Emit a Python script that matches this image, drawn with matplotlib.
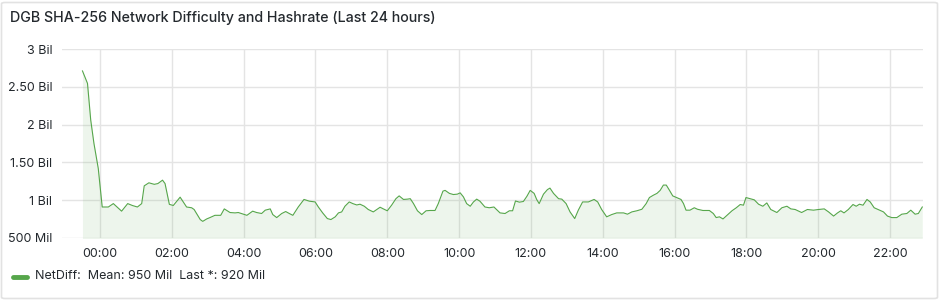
import numpy as np
import matplotlib
matplotlib.use('Agg')
import matplotlib.pyplot as plt
from matplotlib.patches import FancyBboxPatch

plt.rcParams['font.family'] = ['Inter', 'DejaVu Sans']

# Hours relative to midnight (negative = previous evening)
hours = [
    -0.49, -0.35, -0.26, -0.17, -0.05, 0.06, 0.23, 0.37, 0.60, 0.77,
    0.90, 1.04, 1.16, 1.23, 1.36, 1.51, 1.61, 1.74, 1.81, 1.93,
    2.04, 2.23, 2.41, 2.55, 2.62, 2.79, 2.86, 2.97, 3.06, 3.20,
    3.36, 3.46, 3.62, 3.76, 3.85, 3.99, 4.09, 4.25, 4.36, 4.50,
    4.60, 4.74, 4.81, 4.92, 5.06, 5.17, 5.27, 5.37, 5.52, 5.68,
    5.83, 5.99, 6.08, 6.20, 6.33, 6.43, 6.55, 6.64, 6.73, 6.82,
    6.94, 7.04, 7.15, 7.24, 7.36, 7.47, 7.61, 7.71, 7.80, 7.89,
    8.00, 8.12, 8.24, 8.33, 8.45, 8.56, 8.64, 8.73, 8.84, 8.96,
    9.08, 9.19, 9.33, 9.42, 9.55, 9.61, 9.73, 9.84, 9.95, 10.03,
    10.12, 10.21, 10.31, 10.40, 10.49, 10.58, 10.72, 10.84, 10.97, 11.14,
    11.28, 11.40, 11.49, 11.57, 11.68, 11.79, 11.89, 11.98, 12.09, 12.16,
    12.23, 12.35, 12.46, 12.53, 12.63, 12.77, 12.86, 12.98, 13.09, 13.22,
    13.32, 13.44, 13.60, 13.76, 13.86, 13.97, 14.11, 14.25, 14.39, 14.58,
    14.69, 14.81, 14.95, 15.09, 15.21, 15.30, 15.41, 15.51, 15.60, 15.69,
    15.77, 15.86, 15.95, 16.06, 16.18, 16.25, 16.32, 16.43, 16.55, 16.64,
    16.79, 16.97, 17.08, 17.16, 17.25, 17.35, 17.46, 17.60, 17.72, 17.83,
    17.92, 17.99, 18.11, 18.22, 18.34, 18.46, 18.57, 18.68, 18.85, 18.99,
    19.13, 19.24, 19.36, 19.54, 19.70, 19.87, 20.01, 20.17, 20.29, 20.43,
    20.54, 20.63, 20.72, 20.84, 20.97, 21.06, 21.15, 21.25, 21.36, 21.45,
    21.56, 21.71, 21.82, 21.93, 22.05, 22.19, 22.33, 22.47, 22.58, 22.70,
    22.79, 22.90,
]

# Network difficulty, in millions
net_diff_mil = [
    2710, 2545, 2060, 1750, 1420, 910, 910, 955, 855, 955,
    930, 910, 955, 1190, 1230, 1210, 1220, 1265, 1220, 945,
    930, 1040, 910, 900, 877, 744, 720, 752, 770, 800,
    800, 885, 837, 832, 837, 815, 800, 855, 837, 824,
    868, 885, 810, 770, 824, 850, 824, 800, 910, 1010,
    987, 977, 910, 832, 757, 744, 780, 832, 845, 920,
    977, 955, 937, 947, 920, 877, 845, 877, 907, 885,
    860, 934, 1020, 1057, 1010, 1014, 1020, 955, 860, 810,
    860, 864, 864, 955, 1120, 1130, 1090, 1075, 1080, 1097,
    1044, 955, 920, 977, 1014, 987, 910, 900, 910, 832,
    824, 860, 860, 990, 974, 983, 1053, 1130, 1090, 1010,
    955, 1080, 1140, 1160, 1090, 1020, 1014, 955, 845, 757,
    868, 977, 977, 1010, 977, 877, 780, 810, 832, 832,
    815, 845, 860, 880, 955, 1035, 1066, 1090, 1130, 1200,
    1200, 1130, 1057, 1035, 1010, 955, 868, 868, 900, 880,
    864, 864, 824, 770, 780, 752, 800, 860, 900, 943,
    934, 1035, 1020, 1005, 947, 920, 964, 877, 837, 900,
    920, 885, 877, 837, 877, 868, 877, 885, 845, 790,
    832, 860, 832, 877, 943, 920, 947, 934, 1010, 977,
    900, 868, 845, 790, 770, 770, 815, 824, 868, 815,
    824, 910,
]

x_ticks = [0, 2, 4, 6, 8, 10, 12, 14, 16, 18, 20, 22]
x_labels = ['00:00', '02:00', '04:00', '06:00', '08:00', '10:00',
            '12:00', '14:00', '16:00', '18:00', '20:00', '22:00']
y_ticks = [500, 1000, 1500, 2000, 2500, 3000]
y_labels = ['500 Mil', '1 Bil', '1.50 Bil', '2 Bil', '2.50 Bil', '3 Bil']

title = 'DGB SHA-256 Network Difficulty and Hashrate (Last 24 hours)'
legend_text = 'NetDiff:  Mean: 950 Mil  Last *: 920 Mil'

GREEN = '#56a64b'
TEXT = '#24292e'
GRID = '#e4e4e4'

fig = plt.figure(figsize=(9.4, 3.0), dpi=100)
fig.patch.set_facecolor('white')

# panel frame
frame = FancyBboxPatch((1.5 / 940, 1.5 / 300), 936 / 940, 296 / 300,
                       boxstyle='round,pad=0,rounding_size=0.004',
                       transform=fig.transFigure, facecolor='none',
                       edgecolor='#e2e2e2', linewidth=1.2)
fig.patches.append(frame)

ax = fig.add_axes([62 / 940, 1 - 238 / 300, (923 - 62) / 940, (238 - 49) / 300])
t = np.array(hours)
v = np.array(net_diff_mil)
ax.plot(t, v, color=GREEN, linewidth=0.8)
ax.fill_between(t, v, 0, color=GREEN, alpha=0.1, linewidth=0)

ax.set_xlim(-1.06, 22.92)
ax.set_ylim(500, 3000)
ax.set_xticks(x_ticks)
ax.set_xticklabels(x_labels)
ax.set_yticks(y_ticks)
ax.set_yticklabels(y_labels)
ax.tick_params(length=0, labelsize=9, labelcolor=TEXT)
ax.tick_params(axis='x', pad=7)
ax.tick_params(axis='y', pad=7)
ax.grid(True, color=GRID, linewidth=1)
ax.set_axisbelow(True)
for s in ax.spines.values():
    s.set_visible(False)

fig.text(10 / 940, 1 - 18 / 300, title, fontsize=10.25, color=TEXT,
         fontweight='medium', va='center', ha='left')

# legend
fig.add_artist(plt.Line2D([13 / 940, 27 / 940], [1 - 277 / 300, 1 - 277 / 300],
                          color=GREEN, linewidth=3.5, solid_capstyle='round'))
fig.text(35 / 940, 1 - 276 / 300, legend_text, fontsize=9, color=TEXT,
         va='center', ha='left')

fig.savefig('out.png', dpi=100)
